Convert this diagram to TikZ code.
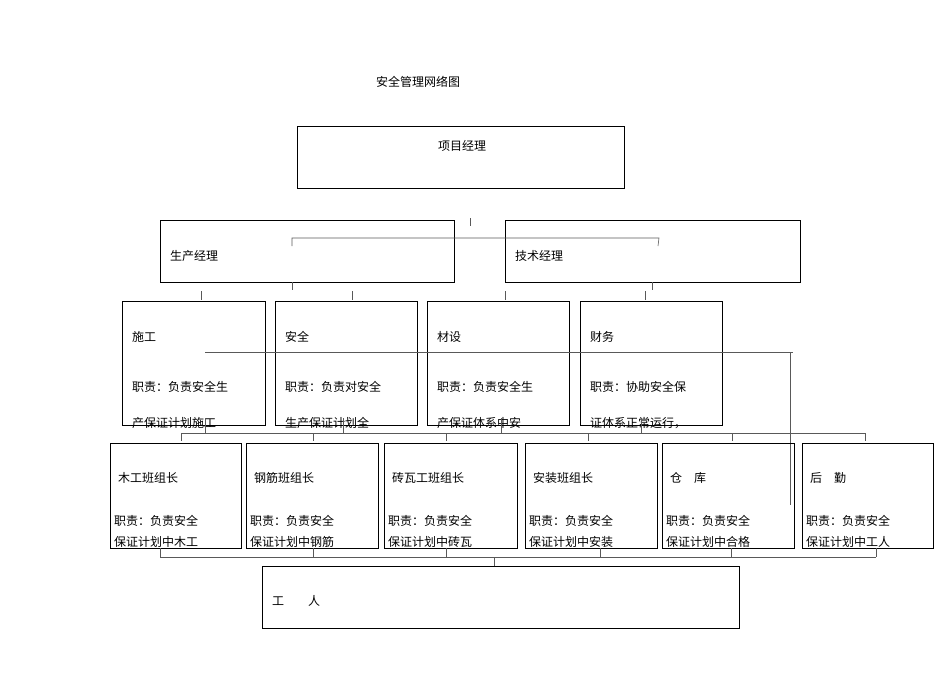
\documentclass[tikz,border=0pt]{standalone}
\usepackage{fontspec}
\setmainfont{Noto Sans CJK SC}
\begin{document}
\begin{tikzpicture}[x=1pt,y=-1pt,
  bx/.style={draw,line width=0.8pt},
  ln/.style={draw,line width=0.6pt,gray!70!black},
  tx/.style={anchor=west,inner sep=0pt,font=\fontsize{12}{14}\selectfont}]
\useasboundingbox (0,0) rectangle (950,672);
\node[tx,anchor=center] (title) at (418,82) {安全管理网络图};
\draw[bx] (297,126) rectangle (624,188);
\node[tx,anchor=center] (pm) at (462,146) {项目经理};
\draw[bx] (160,220) rectangle (454,282);
\node[tx] (sc) at (170,256) {生产经理};
\draw[bx] (505,220) rectangle (800,282);
\node[tx] (js) at (515,256) {技术经理};
\draw[ln] (470,218) -- (470,226);
\draw[ln] (292,246) -- (292,238) -- (659,238) -- (658,246);
\draw[ln] (292,282) -- (292,290);
\draw[ln] (652,282) -- (652,290);
\foreach \x in {201,352,505,645} \draw[ln] (\x,291) -- (\x,300);
% row 2
\foreach \a/\b/\t/\l/\m in {122/265/施工/职责：负责安全生/产保证计划施工,
  275/417/安全/职责：负责对安全/生产保证计划全,
  427/569/材设/职责：负责安全生/产保证体系中安,
  580/722/财务/职责：协助安全保/证体系正常运行，}{
  \draw[bx] (\a,301) rectangle (\b,425);
  \node[tx] at (\a+10,337) {\t};
  \node[tx] at (\a+10,387) {\l};
  \node[tx] at (\a+10,423) {\m};
}
\draw[ln] (205,352) -- (793,352);
\draw[ln] (790,352) -- (790,505);
\draw[ln] (181,433) -- (865,433);
\foreach \x in {205,343,501,641} \draw[ln] (\x,418) -- (\x,433);
\foreach \x in {181,313,446,588,732,865} \draw[ln] (\x,433) -- (\x,441);
% row 3
\foreach \a/\b/\t/\m in {110/241/木工班组长/保证计划中木工,
  246/378/钢筋班组长/保证计划中钢筋,
  384/517/砖瓦工班组长/保证计划中砖瓦,
  525/657/安装班组长/保证计划中安装,
  662/794/仓\quad 库/保证计划中合格,
  802/933/后\quad 勤/保证计划中工人}{
  \draw[bx] (\a,443) rectangle (\b,548);
  \node[tx] at (\a+8,478) {\t};
  \node[tx] at (\a+4,521) {职责：负责安全};
  \node[tx] at (\a+4,542) {\m};
}
\draw[ln] (160,557) -- (876,557);
\foreach \x in {160,313,446,600,731,876} \draw[ln] (\x,548) -- (\x,557);
\draw[ln] (494,557) -- (494,566);
\draw[bx] (262,566) rectangle (739,628);
\node[tx] (wk) at (272,601) {工\quad\quad 人};
\end{tikzpicture}
\end{document}
